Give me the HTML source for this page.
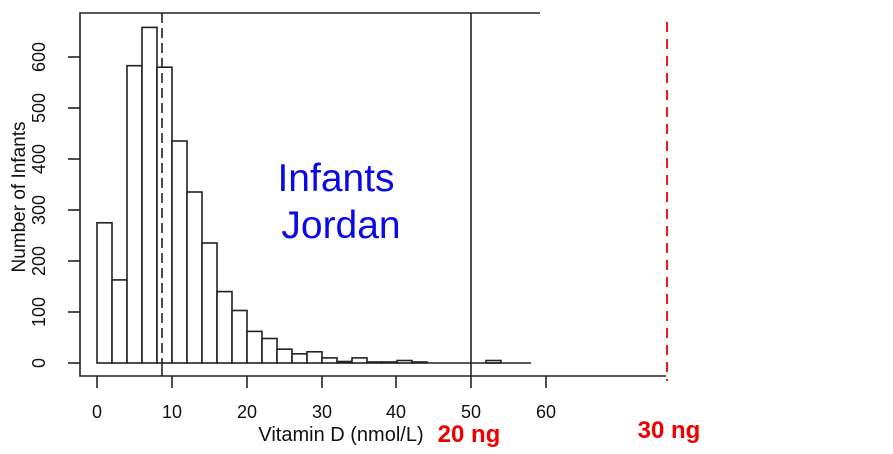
<!DOCTYPE html>
<html><head><meta charset="utf-8"><style>html,body{margin:0;padding:0;background:#fff}svg{display:block}</style></head>
<body>
<svg width="893" height="454" viewBox="0 0 893 454" xmlns="http://www.w3.org/2000/svg" font-family="Liberation Sans, sans-serif">
<g fill="#fff" stroke="#222" stroke-width="1.6">
<rect x="97" y="222.8" width="15" height="140.2"/>
<rect x="112" y="279.9" width="15" height="83.1"/>
<rect x="127" y="65.7" width="15" height="297.3"/>
<rect x="142" y="27.4" width="15" height="335.6"/>
<rect x="157" y="67.2" width="15" height="295.8"/>
<rect x="172" y="141" width="15" height="222"/>
<rect x="187" y="192" width="15" height="171"/>
<rect x="202" y="243" width="15" height="120"/>
<rect x="217" y="291.6" width="15" height="71.4"/>
<rect x="232" y="310.5" width="15" height="52.5"/>
<rect x="247" y="331.4" width="15" height="31.6"/>
<rect x="262" y="338.5" width="15" height="24.5"/>
<rect x="277" y="349.2" width="15" height="13.8"/>
<rect x="292" y="353.8" width="15" height="9.2"/>
<rect x="307" y="351.8" width="15" height="11.2"/>
<rect x="322" y="357.9" width="15" height="5.1"/>
<rect x="337" y="361.5" width="15" height="1.5"/>
<rect x="352" y="357.9" width="15" height="5.1"/>
<rect x="367" y="362" width="15" height="1"/>
<rect x="382" y="362" width="15" height="1"/>
<rect x="397" y="360.5" width="15" height="2.5"/>
<rect x="412" y="362" width="15" height="1"/>
<rect x="486" y="360.5" width="15" height="2.5"/>
</g>
<g stroke="#222" stroke-width="1.6" fill="none">
<line x1="427" y1="363" x2="531" y2="363"/>
<polyline points="540,13 80,13 80,376 666,376"/>
<line x1="471" y1="13" x2="471" y2="388"/>
<line x1="162" y1="13" x2="162" y2="363" stroke-dasharray="10,5"/>
<line x1="162" y1="363" x2="162" y2="376"/>
<line x1="97" y1="376" x2="97" y2="388"/><line x1="172" y1="376" x2="172" y2="388"/>
<line x1="247" y1="376" x2="247" y2="388"/><line x1="322" y1="376" x2="322" y2="388"/>
<line x1="396" y1="376" x2="396" y2="388"/><line x1="546" y1="376" x2="546" y2="388"/>
<line x1="68" y1="363" x2="80" y2="363"/><line x1="68" y1="312" x2="80" y2="312"/>
<line x1="68" y1="261" x2="80" y2="261"/><line x1="68" y1="210" x2="80" y2="210"/>
<line x1="68" y1="159" x2="80" y2="159"/><line x1="68" y1="108" x2="80" y2="108"/>
<line x1="68" y1="57" x2="80" y2="57"/>
</g>
<line x1="667" y1="22" x2="667" y2="381" stroke="#e00" stroke-width="1.8" stroke-dasharray="10,7"/>
<g font-size="18" fill="#111" text-anchor="middle">
<text x="97" y="418">0</text><text x="172" y="418">10</text><text x="247" y="418">20</text>
<text x="322" y="418">30</text><text x="396" y="418">40</text><text x="471" y="418">50</text><text x="546" y="418">60</text>
<text x="341" y="441" font-size="20">Vitamin D (nmol/L)</text>
<g transform="rotate(-90)">
<text x="-363" y="45">0</text><text x="-312" y="45">100</text><text x="-261" y="45">200</text>
<text x="-210" y="45">300</text><text x="-159" y="45">400</text><text x="-108" y="45">500</text><text x="-57" y="45">600</text>
<text x="-197" y="25" font-size="19">Number of Infants</text>
</g>
</g>
<g font-size="24" font-weight="bold" fill="#e00" text-anchor="middle">
<text x="469" y="442">20 ng</text><text x="669" y="438">30 ng</text>
</g>
<g font-size="39" fill="#0a0ae6" text-anchor="middle">
<text x="336" y="191">Infants</text><text x="341" y="238">Jordan</text>
</g>
</svg>
</body></html>
